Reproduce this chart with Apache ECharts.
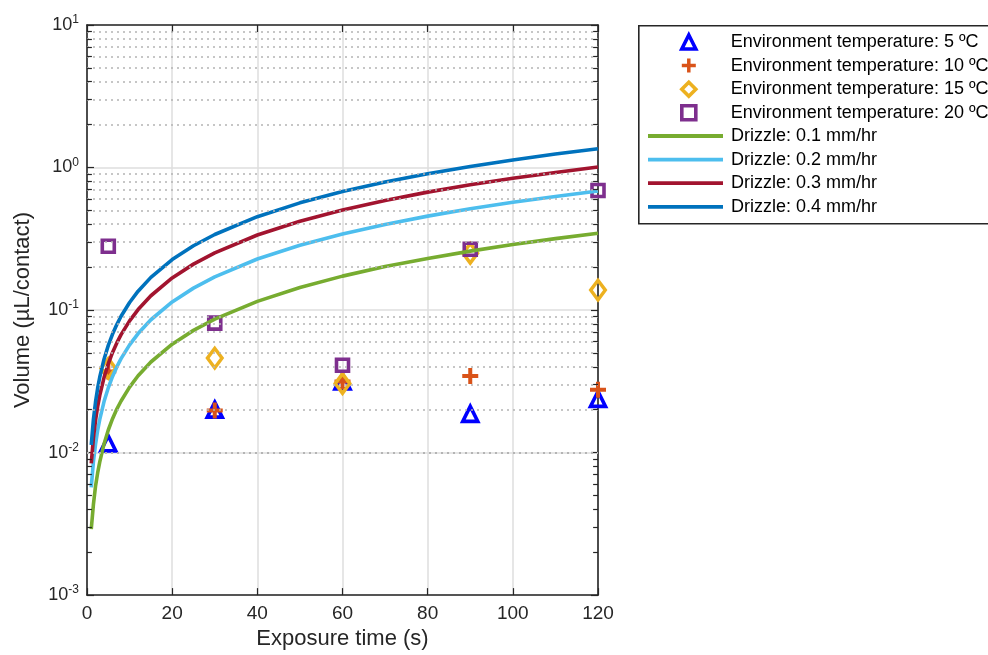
<!DOCTYPE html>
<html>
<head>
<meta charset="utf-8">
<script src="https://cdn.jsdelivr.net/npm/echarts@6/dist/echarts.min.js"></script>
<style>html,body{margin:0;padding:0;background:#fff;}#c{width:988px;height:655px;}</style>
</head>
<body>
<div id="c"></div>
<script>
// ---- data ----
const sampleTimes = [5, 30, 60, 90, 120];
const temp5C  = [0.0116, 0.020, 0.0315, 0.0187, 0.0238];
const temp10C = [0.037, 0.0197, 0.0315, 0.0345, 0.0276];
const temp15C = [0.039, 0.046, 0.0305, 0.25, 0.138];
const temp20C = [0.28, 0.081, 0.041, 0.267, 0.69];

const curveTimes = [1, 1.5, 2, 2.5, 3, 4, 5, 6, 7, 8, 10, 12, 15, 20, 25, 30, 40, 50, 60, 70, 80, 90, 100, 110, 120];
const drizzle01 = [0.0029, 0.0043, 0.0058, 0.0072, 0.0086, 0.0115, 0.0144, 0.0173, 0.0202, 0.023, 0.0288, 0.0346, 0.0432, 0.0576, 0.072, 0.0864, 0.115, 0.144, 0.173, 0.202, 0.23, 0.259, 0.288, 0.317, 0.346];
const drizzle02 = [0.0057, 0.0086, 0.0114, 0.0143, 0.0171, 0.0228, 0.0285, 0.0342, 0.0399, 0.0456, 0.057, 0.0684, 0.0855, 0.114, 0.1425, 0.171, 0.228, 0.285, 0.342, 0.399, 0.456, 0.513, 0.57, 0.627, 0.684];
const drizzle03 = [0.0084, 0.0126, 0.0168, 0.021, 0.0252, 0.0336, 0.042, 0.0504, 0.0588, 0.0672, 0.084, 0.1008, 0.126, 0.168, 0.21, 0.252, 0.336, 0.42, 0.504, 0.588, 0.672, 0.756, 0.84, 0.924, 1.008];
const drizzle04 = [0.0113, 0.017, 0.0226, 0.0283, 0.0339, 0.0452, 0.0565, 0.0678, 0.0791, 0.0904, 0.113, 0.1356, 0.1695, 0.226, 0.2825, 0.339, 0.452, 0.565, 0.678, 0.791, 0.904, 1.017, 1.13, 1.243, 1.356];

const markerNames = ['Environment temperature: 5 ºC', 'Environment temperature: 10 ºC', 'Environment temperature: 15 ºC', 'Environment temperature: 20 ºC'];
const lineNames = ['Drizzle: 0.1 mm/hr', 'Drizzle: 0.2 mm/hr', 'Drizzle: 0.3 mm/hr', 'Drizzle: 0.4 mm/hr'];
const xTicks = [0, 20, 40, 60, 80, 100, 120];
const yDecades = [0.001, 0.01, 0.1, 1, 10];
const minorMultipliers = [2, 3, 4, 5, 6, 7, 8, 9];

// ---- build ----
const pair = (xs, ys) => xs.map((x, i) => [x, ys[i]]);
const minorValues = [];
for (let d = 0; d < yDecades.length - 1; d++) minorMultipliers.forEach(m => minorValues.push(+(m * yDecades[d]).toPrecision(3)));

const axisColor = '#262626';
const font = '"Liberation Sans", Arial, Helvetica, sans-serif';
const plusPath = 'path://M6,0H10V6H16V10H10V16H6V10H0V6H6Z';
const hollowBorder = 3.6;

const chart = echarts.init(document.getElementById('c'), null, {renderer: 'canvas'});

const tickLen = 1.15;
const minorTickSegs = [];
minorValues.forEach(v => {
  minorTickSegs.push([{coord: [xTicks[0], v]}, {coord: [xTicks[0] + tickLen, v]}]);
  minorTickSegs.push([{coord: [xTicks[xTicks.length - 1] - tickLen, v]}, {coord: [xTicks[xTicks.length - 1], v]}]);
});

function markerSeries(name, data, symbol, size, color, hollow) {
  return {
    name, type: 'scatter', data, symbol, symbolSize: size, clip: false, z: 3,
    itemStyle: hollow ? {color: 'rgba(255,255,255,0)', borderColor: color, borderWidth: hollowBorder, opacity: 1}
                      : {color: color, borderWidth: 0, opacity: 1},
    emphasis: {disabled: true}
  };
}
function lineSeries(name, data, color) {
  return {
    name, type: 'line', data, symbol: 'none', showSymbol: false, smooth: false, z: 4,
    lineStyle: {color, width: 3.6}, itemStyle: {color}, emphasis: {disabled: true}
  };
}

const legendText = {fontSize: 18, color: '#000', fontFamily: font};
const markerLegendStyles = [
  {borderColor: '#0000FF', borderWidth: hollowBorder, color: 'rgba(255,255,255,0)'},
  {color: '#D95319', borderWidth: 0},
  {borderColor: '#EDB120', borderWidth: hollowBorder, color: 'rgba(255,255,255,0)'},
  {borderColor: '#7E2F8E', borderWidth: hollowBorder, color: 'rgba(255,255,255,0)'}
];

const option = {
  animation: false,
  backgroundColor: '#fff',
  textStyle: {fontFamily: font},
  grid: {left: 87, top: 25, width: 511, height: 573, containLabel: false},
  graphic: [{
    type: 'rect', left: 638, top: 25, z: 1, silent: true,
    shape: {x: 0, y: 0, width: 420, height: 198},
    style: {fill: '#fff', stroke: axisColor, lineWidth: 1.6}
  }],
  legend: [{
    orient: 'vertical', left: 680, top: 33, padding: 0,
    itemWidth: 14, itemHeight: 14, itemGap: 5.6,
    textStyle: Object.assign({padding: [0, 0, 0, 30]}, legendText),
    selectedMode: false,
    data: markerNames.map((n, i) => ({name: n, itemStyle: markerLegendStyles[i]}))
  }, {
    orient: 'vertical', left: 648, top: 127, padding: 0,
    itemWidth: 75, itemHeight: 3.8, itemGap: 5.6, icon: 'rect',
    textStyle: Object.assign({padding: [0, 0, 0, 3]}, legendText),
    selectedMode: false,
    data: lineNames
  }],
  xAxis: [{
    type: 'value', min: 0, max: 120, interval: 20, position: 'bottom',
    name: 'Exposure time (s)', nameLocation: 'middle', nameGap: 29,
    nameTextStyle: {fontSize: 22, color: axisColor, fontFamily: font},
    axisLine: {show: true, onZero: false, lineStyle: {color: axisColor, width: 1.6}},
    axisTick: {show: true, inside: true, length: 7, lineStyle: {color: axisColor, width: 1.2}},
    axisLabel: {fontSize: 19, color: axisColor, margin: 9, fontFamily: font},
    splitLine: {show: true, lineStyle: {color: '#dedede', width: 1.5}}
  }, {
    type: 'value', min: 0, max: 120, interval: 20, position: 'top',
    axisLine: {show: true, onZero: false, lineStyle: {color: axisColor, width: 1.6}},
    axisTick: {show: true, inside: true, length: 7, lineStyle: {color: axisColor, width: 1.2}},
    axisLabel: {show: false}, splitLine: {show: false}
  }],
  yAxis: [{
    type: 'log', logBase: 10, min: 0.001, max: 10, position: 'left',
    name: 'Volume (µL/contact)', nameLocation: 'middle', nameGap: 53,
    nameTextStyle: {fontSize: 22, color: axisColor, fontFamily: font},
    axisLine: {show: true, onZero: false, lineStyle: {color: axisColor, width: 1.6}},
    axisTick: {show: true, inside: true, length: 7, lineStyle: {color: axisColor, width: 1.2}},
    axisLabel: {
      margin: 8, fontFamily: font,
      formatter: v => '{b|10}{s|' + Math.round(Math.log10(v)) + '}',
      rich: {
        b: {fontSize: 18, color: axisColor, fontFamily: font},
        s: {fontSize: 12, color: axisColor, fontFamily: font, padding: [0, 0, 10, 0]}
      }
    },
    splitLine: {show: true, lineStyle: {color: '#dedede', width: 1.5}}
  }, {
    type: 'log', logBase: 10, min: 0.001, max: 10, position: 'right',
    axisLine: {show: true, onZero: false, lineStyle: {color: axisColor, width: 1.6}},
    axisTick: {show: true, inside: true, length: 7, lineStyle: {color: axisColor, width: 1.2}},
    axisLabel: {show: false}, splitLine: {show: false}
  }],
  series: [
    {
      name: 'minorGrid', type: 'line', data: [], z: 1, silent: true, legendHoverLink: false,
      markLine: {
        silent: true, symbol: 'none', label: {show: false}, animation: false,
        lineStyle: {color: '#b4b4b4', width: 1.6, type: [2, 4]},
        data: minorValues.map(v => ({yAxis: v}))
      }
    },
    {
      name: 'minorTicks', type: 'line', data: [], z: 5, silent: true, legendHoverLink: false,
      markLine: {
        silent: true, symbol: 'none', label: {show: false}, animation: false,
        lineStyle: {color: axisColor, width: 1.2, type: 'solid'},
        data: minorTickSegs
      }
    },
    markerSeries(markerNames[0], pair(sampleTimes, temp5C), 'triangle', 15, '#0000FF', true),
    markerSeries(markerNames[1], pair(sampleTimes, temp10C), plusPath, 16, '#D95319', false),
    markerSeries(markerNames[2], pair(sampleTimes, temp15C), 'diamond', [14.5, 19.5], '#EDB120', true),
    markerSeries(markerNames[3], pair(sampleTimes, temp20C), 'rect', 12, '#7E2F8E', true),
    lineSeries(lineNames[0], pair(curveTimes, drizzle01), '#77AC30'),
    lineSeries(lineNames[1], pair(curveTimes, drizzle02), '#4DBEEE'),
    lineSeries(lineNames[2], pair(curveTimes, drizzle03), '#A2142F'),
    lineSeries(lineNames[3], pair(curveTimes, drizzle04), '#0072BD')
  ]
};
chart.setOption(option);
</script>
</body>
</html>
